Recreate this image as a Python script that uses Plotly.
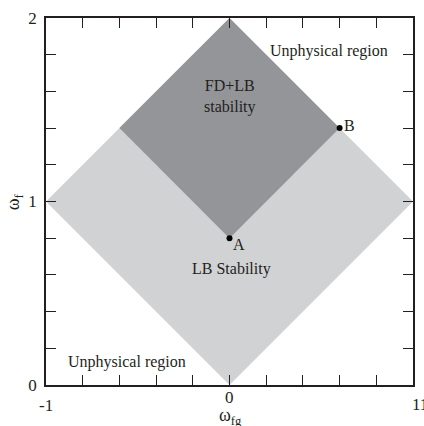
import plotly.graph_objects as go

# Stability regions in the (omega_fg, omega_f) plane
lb_x = [-1, 0, 1, 0, -1]
lb_y = [1, 0, 1, 2, 1]
fdlb_x = [0, 0.6, 0, -0.6, 0]
fdlb_y = [0.8, 1.4, 2, 1.4, 0.8]

# Marked points
pt_names = ["A", "B"]
pt_x = [0, 0.6]
pt_y = [0.8, 1.4]

tick_vals = [round(-1 + 0.2 * i, 1) for i in range(11)]
ytick_vals = [round(0.2 * i, 1) for i in range(11)]
ytick_text = ["0", "", "", "", "", "1", "", "", "", "", "2"]

FONT = "Liberation Serif"
TXT = "#231f20"

fig = go.Figure()
fig.add_trace(go.Scatter(x=lb_x, y=lb_y, fill="toself", fillcolor="#d1d2d4",
                         line=dict(width=0), mode="lines", hoverinfo="skip"))
fig.add_trace(go.Scatter(x=fdlb_x, y=fdlb_y, fill="toself", fillcolor="#939598",
                         line=dict(width=0), mode="lines", hoverinfo="skip"))
fig.add_trace(go.Scatter(x=pt_x, y=pt_y, mode="markers",
                         marker=dict(color="black", size=6), hoverinfo="skip"))

ann = []
# point labels
ann.append(dict(x=pt_x[0], y=pt_y[0], text=pt_names[0], xshift=9, yshift=-6))
ann.append(dict(x=pt_x[1], y=pt_y[1], text=pt_names[1], xshift=10, yshift=3))
# region labels
ann.append(dict(x=0.54, y=1.82, text="Unphysical region"))
ann.append(dict(x=0.0, y=1.57, text="FD+LB<br>stability"))
ann.append(dict(x=0.01, y=0.63, text="LB Stability"))
ann.append(dict(x=-0.56, y=0.128, text="Unphysical region"))
for a in ann:
    a.update(showarrow=False, font=dict(family=FONT, size=16, color=TXT))

# x tick labels
xlab = [dict(x=-1, y=0, text="-1", yshift=-20, xanchor="center"),
        dict(x=0, y=0, text="0", yshift=-12, xanchor="center"),
        dict(x=1, y=0, text="11", yshift=-19, xshift=-3, xanchor="left")]
for a in xlab:
    a.update(showarrow=False, yanchor="middle",
             font=dict(family=FONT, size=17, color=TXT))
ann += xlab

# axis titles
ann.append(dict(x=0.005, y=-0.085, xref="x", yref="paper", text="ω<sub>fg</sub>",
                showarrow=False, yanchor="middle",
                font=dict(family=FONT, size=18, color=TXT)))
ann.append(dict(x=-0.085, y=0.5, xref="paper", yref="paper", text="ω<sub>f</sub>",
                showarrow=False, textangle=-90, xanchor="center",
                font=dict(family=FONT, size=18, color=TXT)))

fig.update_layout(
    width=424, height=426,
    margin=dict(l=46, r=9, t=15, b=41),
    plot_bgcolor="white", paper_bgcolor="white",
    showlegend=False,
    annotations=ann,
    xaxis=dict(range=[-1, 1], tickvals=tick_vals, showticklabels=False,
               ticks="inside", ticklen=10, tickcolor="#231f20", tickwidth=1,
               showline=True, linecolor="#231f20", linewidth=1.5, mirror="ticks",
               showgrid=False, zeroline=False),
    yaxis=dict(range=[0, 2], tickvals=ytick_vals, ticktext=ytick_text,
               ticks="inside", ticklen=10, tickcolor="#231f20", tickwidth=1,
               tickfont=dict(family=FONT, size=17, color=TXT),
               ticklabelstandoff=4,
               showline=True, linecolor="#231f20", linewidth=1.5, mirror="ticks",
               showgrid=False, zeroline=False),
)

fig.write_html("out.html")
